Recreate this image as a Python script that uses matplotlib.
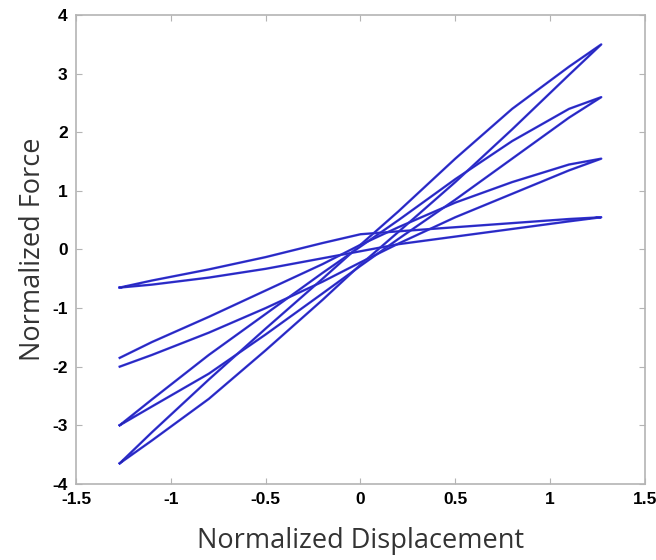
import matplotlib
matplotlib.use("Agg")
import matplotlib.pyplot as plt

plt.rcParams['axes.unicode_minus'] = False

# displacement stations shared by every loop branch
disp = [-1.27, -1.1, -0.8, -0.5, -0.2, 0.0, 0.2, 0.5, 0.8, 1.1, 1.27]

# loop A (stiffest)
a_upper = [-3.65, -3.12, -2.22, -1.35, -0.50, 0.08, 0.65, 1.55, 2.40, 3.12, 3.50]
a_lower = [-3.65, -3.26, -2.55, -1.72, -0.86, -0.26, 0.30, 1.15, 2.05, 2.98, 3.50]
# loop B
b_upper = [-3.00, -2.56, -1.80, -1.10, -0.40, 0.05, 0.50, 1.20, 1.85, 2.40, 2.60]
b_lower = [-3.00, -2.68, -2.12, -1.45, -0.75, -0.28, 0.18, 0.85, 1.55, 2.25, 2.60]
# loop C
c_upper = [-1.85, -1.58, -1.15, -0.70, -0.25, 0.08, 0.38, 0.80, 1.15, 1.45, 1.55]
c_lower = [-2.00, -1.80, -1.42, -1.00, -0.55, -0.22, 0.10, 0.55, 0.95, 1.35, 1.55]
# loop D (softest)
d_upper = [-0.65, -0.53, -0.34, -0.13, 0.11, 0.26, 0.31, 0.38, 0.45, 0.52, 0.55]
d_lower = [-0.65, -0.60, -0.48, -0.33, -0.15, -0.03, 0.09, 0.22, 0.35, 0.48, 0.55]

loops = [(a_upper, a_lower), (b_upper, b_lower), (c_upper, c_lower), (d_upper, d_lower)]

xticks = [-1.5, -1, -0.5, 0, 0.5, 1, 1.5]
yticks = [-4, -3, -2, -1, 0, 1, 2, 3, 4]

fig = plt.figure(figsize=(6.56, 5.60), dpi=100)
ax = fig.add_axes([0.116, 0.136, 0.867, 0.837])

for upper, lower in loops:
    # loading along the lower branch, unloading back along the upper one
    xs = disp + disp[::-1]
    ys = lower + upper[::-1]
    ax.plot(xs, ys, color='#3434dc', lw=1.7, solid_joinstyle='round')
    ax.plot(xs, ys, color='#1a1a80', lw=0.5, alpha=0.6)

ax.set_xlim(-1.5, 1.5)
ax.set_ylim(-4, 4)
ax.set_xticks(xticks)
ax.set_yticks(yticks)
ax.set_xticklabels([f'{t:g}' for t in xticks])
ax.set_yticklabels([f'{t:g}' for t in yticks])

for s in ax.spines.values():
    s.set_color('#b4b4b4')
    s.set_linewidth(1.2)
ax.tick_params(direction='in', length=4, color='#b4b4b4', top=True, right=True,
               labelsize=12.5, pad=6)
for lab in ax.get_xticklabels() + ax.get_yticklabels():
    lab.set_fontweight('bold')
    lab.set_family('Liberation Sans')

ax.set_xlabel('Normalized Displacement', fontsize=19.5, family='Open Sans',
              color='#333333', labelpad=14)
ax.set_ylabel('Normalized Force', fontsize=19.5, family='Open Sans',
              color='#333333', labelpad=4)

fig.savefig('out.png', dpi=100)
